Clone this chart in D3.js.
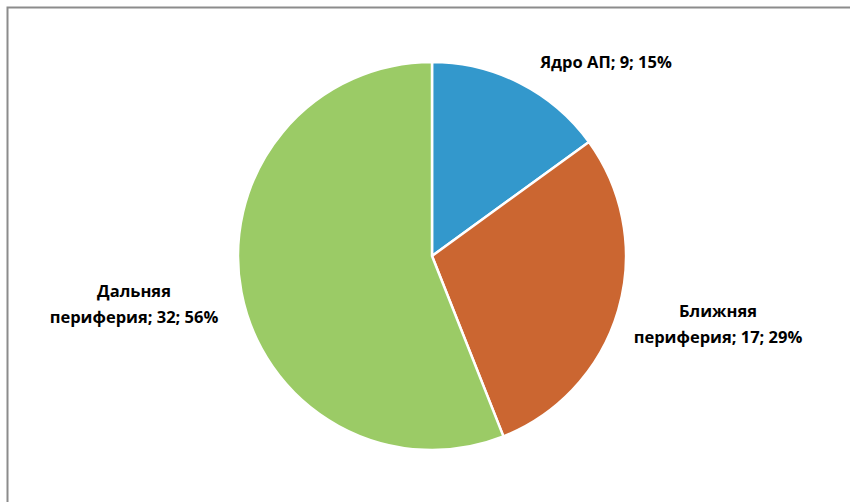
<!DOCTYPE html>
<html>
<head>
<meta charset="utf-8">
<script src="https://cdn.jsdelivr.net/npm/d3@7"></script>
<style>
  body { margin: 0; background: #fff; }
</style>
</head>
<body>
<div id="chart"></div>
<script>
// data
const categories = ["Ядро АП", "Ближняя периферия", "Дальняя периферия"];
const counts = [9, 17, 32];
const percents = [15, 29, 56];
const colors = ["#3398CC", "#CB6631", "#9BCB66"];

const W = 850, H = 502;
const cx = 432, cy = 256, r = 194;

const svg = d3.select("#chart")
  .append("svg")
    .attr("width", W)
    .attr("height", H);

// frame
svg.append("rect")
  .attr("x", 7.5)
  .attr("y", 7.5)
  .attr("width", W)
  .attr("height", H)
  .attr("fill", "none")
  .attr("stroke", "#8c8c8c")
  .attr("stroke-width", 2);

const pie = d3.pie().sort(null).value(d => d.pct);
const arc = d3.arc().innerRadius(0).outerRadius(r);

const data = categories.map((c, i) => ({ name: c, count: counts[i], pct: percents[i], color: colors[i] }));
const arcs = pie(data);

const g = svg.append("g").attr("transform", `translate(${cx}, ${cy})`);

g.selectAll("path")
  .data(arcs)
  .join("path")
    .attr("d", arc)
    .attr("fill", d => d.data.color)
    .attr("stroke", "#fff")
    .attr("stroke-width", 2.5)
    .attr("stroke-linejoin", "round");

// labels outside the slices, as in the original
const labelPos = [
  { x: 606, y: 68, wrap: false },
  { x: 718, y: 317, wrap: true },
  { x: 134, y: 297, wrap: true }
];

arcs.forEach((d, i) => {
  const tail = `${d.data.count}; ${d.data.pct}%`;
  const p = labelPos[i];
  let lines;
  if (p.wrap) {
    const words = d.data.name.split(" ");
    lines = [words[0], words.slice(1).join(" ") + "; " + tail];
  } else {
    lines = [d.data.name + "; " + tail];
  }
  const t = svg.append("text")
    .attr("x", p.x)
    .attr("y", p.y)
    .attr("text-anchor", "middle")
    .style("font-family", "'Open Sans', sans-serif")
    .style("font-weight", "700")
    .style("font-size", "16.5px")
    .style("fill", "#000");
  lines.forEach((l, j) => {
    t.append("tspan")
      .attr("x", p.x)
      .attr("dy", j === 0 ? 0 : 26)
      .text(l);
  });
});
</script>
</body>
</html>
